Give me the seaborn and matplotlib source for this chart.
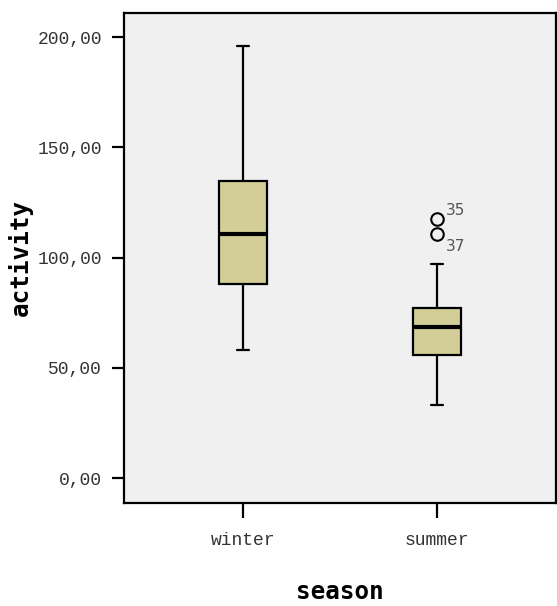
import matplotlib
matplotlib.use("Agg")
import matplotlib.pyplot as plt
import seaborn as sns
import numpy as np
import pandas as pd

# values chosen so the box statistics match the chart
winter = [58, 72, 88, 100, 110.7, 122, 134.7, 160, 196]
summer = [33, 42, 50, 55.8, 61, 65, 68.5, 71, 74, 77.1, 97, 110.7, 117.5]
seasons = ["winter", "summer"]
outlier_cases = {"35": 117.5, "37": 110.7}

df = pd.DataFrame({
    "season": ["winter"] * len(winter) + ["summer"] * len(summer),
    "activity": winter + summer,
})

sns.set_style("white")
plt.rcParams["font.family"] = ["Liberation Mono", "DejaVu Sans Mono"]

fig = plt.figure(figsize=(5.57, 6.06), dpi=100)
ax = fig.add_axes([124 / 557, 1 - 503 / 606, 432 / 557, 490 / 606])
ax.set_facecolor("#F0F0F0")

sns.boxplot(data=df, x="season", y="activity", order=seasons, ax=ax,
            color="#D3CE97", saturation=1, width=0.25, whis=1.5,
            linecolor="black", linewidth=1.6,
            medianprops={"color": "black", "linewidth": 3},
            flierprops={"marker": "o", "markerfacecolor": "none",
                        "markeredgecolor": "black", "markersize": 9,
                        "markeredgewidth": 1.5})

# shorter caps like SPSS
for line in ax.lines:
    xd = np.asarray(line.get_xdata(), dtype=float)
    yd = np.asarray(line.get_ydata(), dtype=float)
    if len(xd) == 2 and yd[0] == yd[1] and xd[0] != xd[1]:
        c = xd.mean()
        w = abs(xd[1] - xd[0])
        if w < 0.2:
            line.set_xdata([c - 0.033, c + 0.033])

for lab, val in outlier_cases.items():
    dy = 6 if lab == "35" else -9
    ax.annotate(lab, (1, val), xytext=(6, dy), textcoords="offset points",
                fontsize=11, color="#555555", va="center",
                family="DejaVu Sans")

ax.set_xlim(-0.613, 1.613)
ax.set_ylim(-11.3, 210.9)
ax.set_yticks([0, 50, 100, 150, 200])
ax.set_yticklabels(["0,00", "50,00", "100,00", "150,00", "200,00"])
ax.tick_params(axis="both", direction="out", width=1.6, bottom=True,
               left=True, labelsize=13, labelcolor="#333333", color="black")
ax.tick_params(axis="x", length=11, pad=10)
ax.tick_params(axis="y", length=9, pad=7)
for s in ax.spines.values():
    s.set_color("black")
    s.set_linewidth(1.6)

ax.set_xlabel("season", fontsize=17.5, fontweight="bold", labelpad=22,
              family="DejaVu Sans Mono", color="black")
ax.set_ylabel("activity", fontsize=17.5, fontweight="bold", labelpad=3,
              family="DejaVu Sans Mono", color="black")

fig.savefig("out.png", dpi=100)
